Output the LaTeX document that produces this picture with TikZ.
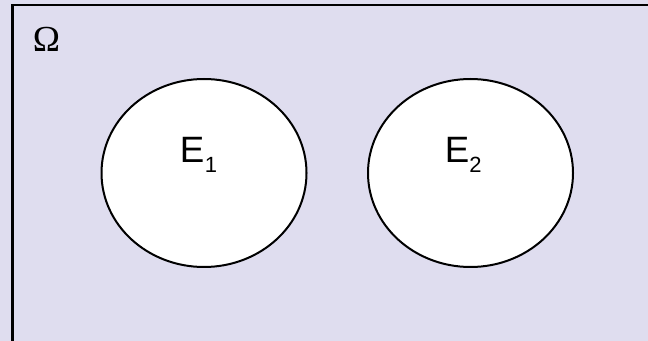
\documentclass[tikz,border=0pt]{standalone}
\usepackage{fontspec}
\setmainfont{Liberation Serif}
\newfontfamily\labelfont{Liberation Sans}
\usetikzlibrary{shapes.geometric}
\definecolor{spacebg}{RGB}{223,221,239}
\begin{document}
\begin{tikzpicture}[x=0.75pt,y=-0.75pt,
  eventset/.style={ellipse,draw=black,line width=1.5pt,fill=white,
    minimum width=205*0.75pt,minimum height=188*0.75pt,inner sep=0pt},
  eventlabel/.style={inner sep=0pt,anchor=base west,font=\labelfont\fontsize{27.5}{30}\selectfont},
  sub/.style={inner sep=0pt,anchor=base west,font=\labelfont\fontsize{16.5}{18}\selectfont}]
  \useasboundingbox (0,0) rectangle (648,341);
  \fill[spacebg] (0,0) rectangle (648,341);
  % sample space
  \begin{scope}
    \clip (0,0) rectangle (648,341);
    \draw[line width=1.6pt] (12.5,360) -- (12.5,5) -- (660,5);
  \end{scope}
  \node[inner sep=0pt,anchor=base west,font=\fontsize{27.5}{30}\selectfont] (omega) at (32.5,52) {Ω};
  % two disjoint events
  \node[eventset] (e1) at (204,173) {};
  \node[eventset] (e2) at (470.5,173) {};
  \node[eventlabel] (l1) at (179.5,163) {E};
  \node[sub] (s1) at (204.5,173) {1};
  \node[eventlabel] (l2) at (444.5,163) {E};
  \node[sub] (s2) at (469,173) {2};
\end{tikzpicture}
\end{document}
